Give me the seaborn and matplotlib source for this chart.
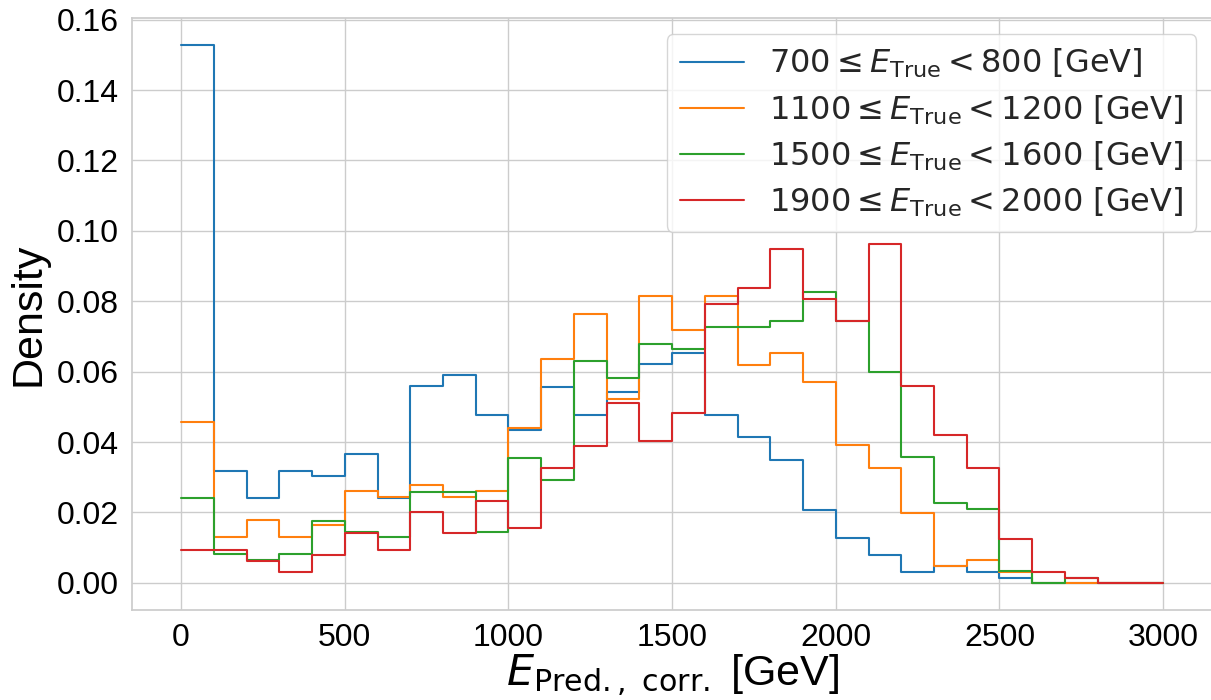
import numpy as np
import pandas as pd
import seaborn as sns
import matplotlib
matplotlib.use("Agg")
import matplotlib.pyplot as plt

# ---- data (probability per 100 GeV bin, 0..3000 GeV) ----
bin_edges = list(range(0, 3001, 100))
labels = [
    r"$700 \leq E_\mathrm{True} < 800$ [GeV]",
    r"$1100 \leq E_\mathrm{True} < 1200$ [GeV]",
    r"$1500 \leq E_\mathrm{True} < 1600$ [GeV]",
    r"$1900 \leq E_\mathrm{True} < 2000$ [GeV]",
]
vals_700 = [0.1528, 0.0318, 0.0240, 0.0318, 0.0303, 0.0367, 0.0240, 0.0558, 0.0589, 0.0478,
            0.0434, 0.0556, 0.0477, 0.0541, 0.0621, 0.0652, 0.0477, 0.0413, 0.0350, 0.0206,
            0.0127, 0.0079, 0.0032, 0.0048, 0.0032, 0.0015, 0.0, 0.0, 0.0, 0.0]
vals_1100 = [0.0457, 0.0131, 0.0179, 0.0131, 0.0163, 0.0262, 0.0245, 0.0278, 0.0245, 0.0262,
             0.0440, 0.0635, 0.0765, 0.0522, 0.0814, 0.0719, 0.0814, 0.0619, 0.0652, 0.0570,
             0.0391, 0.0327, 0.0197, 0.0048, 0.0064, 0.0032, 0.0, 0.0, 0.0, 0.0]
vals_1500 = [0.0242, 0.0082, 0.0066, 0.0081, 0.0176, 0.0145, 0.0129, 0.0258, 0.0258, 0.0145,
             0.0355, 0.0291, 0.0630, 0.0582, 0.0678, 0.0665, 0.0727, 0.0727, 0.0744, 0.0825,
             0.0745, 0.0599, 0.0356, 0.0227, 0.0210, 0.0034, 0.0, 0.0015, 0.0, 0.0]
vals_1900 = [0.0093, 0.0093, 0.0063, 0.0030, 0.0078, 0.0141, 0.0093, 0.0202, 0.0141, 0.0233,
             0.0155, 0.0326, 0.0388, 0.0512, 0.0404, 0.0481, 0.0791, 0.0838, 0.0947, 0.0807,
             0.0745, 0.0963, 0.0558, 0.0419, 0.0326, 0.0124, 0.0032, 0.0015, 0.0, 0.0]
series = [vals_700, vals_1100, vals_1500, vals_1900]
colors = ["#1f77b4", "#ff7f0e", "#2ca02c", "#d62728"]

# ---- style ----
sns.set_theme(style="whitegrid")
plt.rcParams['font.family'] = ['Liberation Sans', 'DejaVu Sans']
plt.rcParams['mathtext.fontset'] = 'dejavusans'

fig = plt.figure(figsize=(12.11, 7.0), dpi=100)
ax = fig.add_axes([0.109, 0.129, 0.892, 0.845])

centers = [(bin_edges[i] + bin_edges[i + 1]) / 2 for i in range(len(bin_edges) - 1)]
for vals, lab, col in zip(series, labels, colors):
    df = pd.DataFrame({"E": centers, "w": vals})
    sns.histplot(data=df, x="E", weights="w", bins=bin_edges, element="step",
                 fill=False, stat="count", color=col, label=lab, linewidth=1.5, ax=ax)

ax.set_xlabel(r"$E_\mathrm{Pred.,\ corr.}$ [GeV]", fontsize=31, color="black", labelpad=0)
ax.set_ylabel("Density", fontsize=31, color="black", labelpad=6)
ax.tick_params(axis="both", labelsize=23, labelcolor="black")
ax.set_xticks([0, 500, 1000, 1500, 2000, 2500, 3000])
ax.set_yticks([0.0, 0.02, 0.04, 0.06, 0.08, 0.10, 0.12, 0.14, 0.16])
ax.yaxis.set_major_formatter(matplotlib.ticker.FormatStrFormatter('%.2f'))
ax.set_xlim(-150, 3150)
ax.set_ylim(-0.00764, 0.1604)

ax.legend(loc="upper right", labelspacing=0.4,
          prop={'family': 'DejaVu Sans', 'size': 23, 'math_fontfamily': 'dejavusans'})

fig.savefig("out.png", dpi=100)
